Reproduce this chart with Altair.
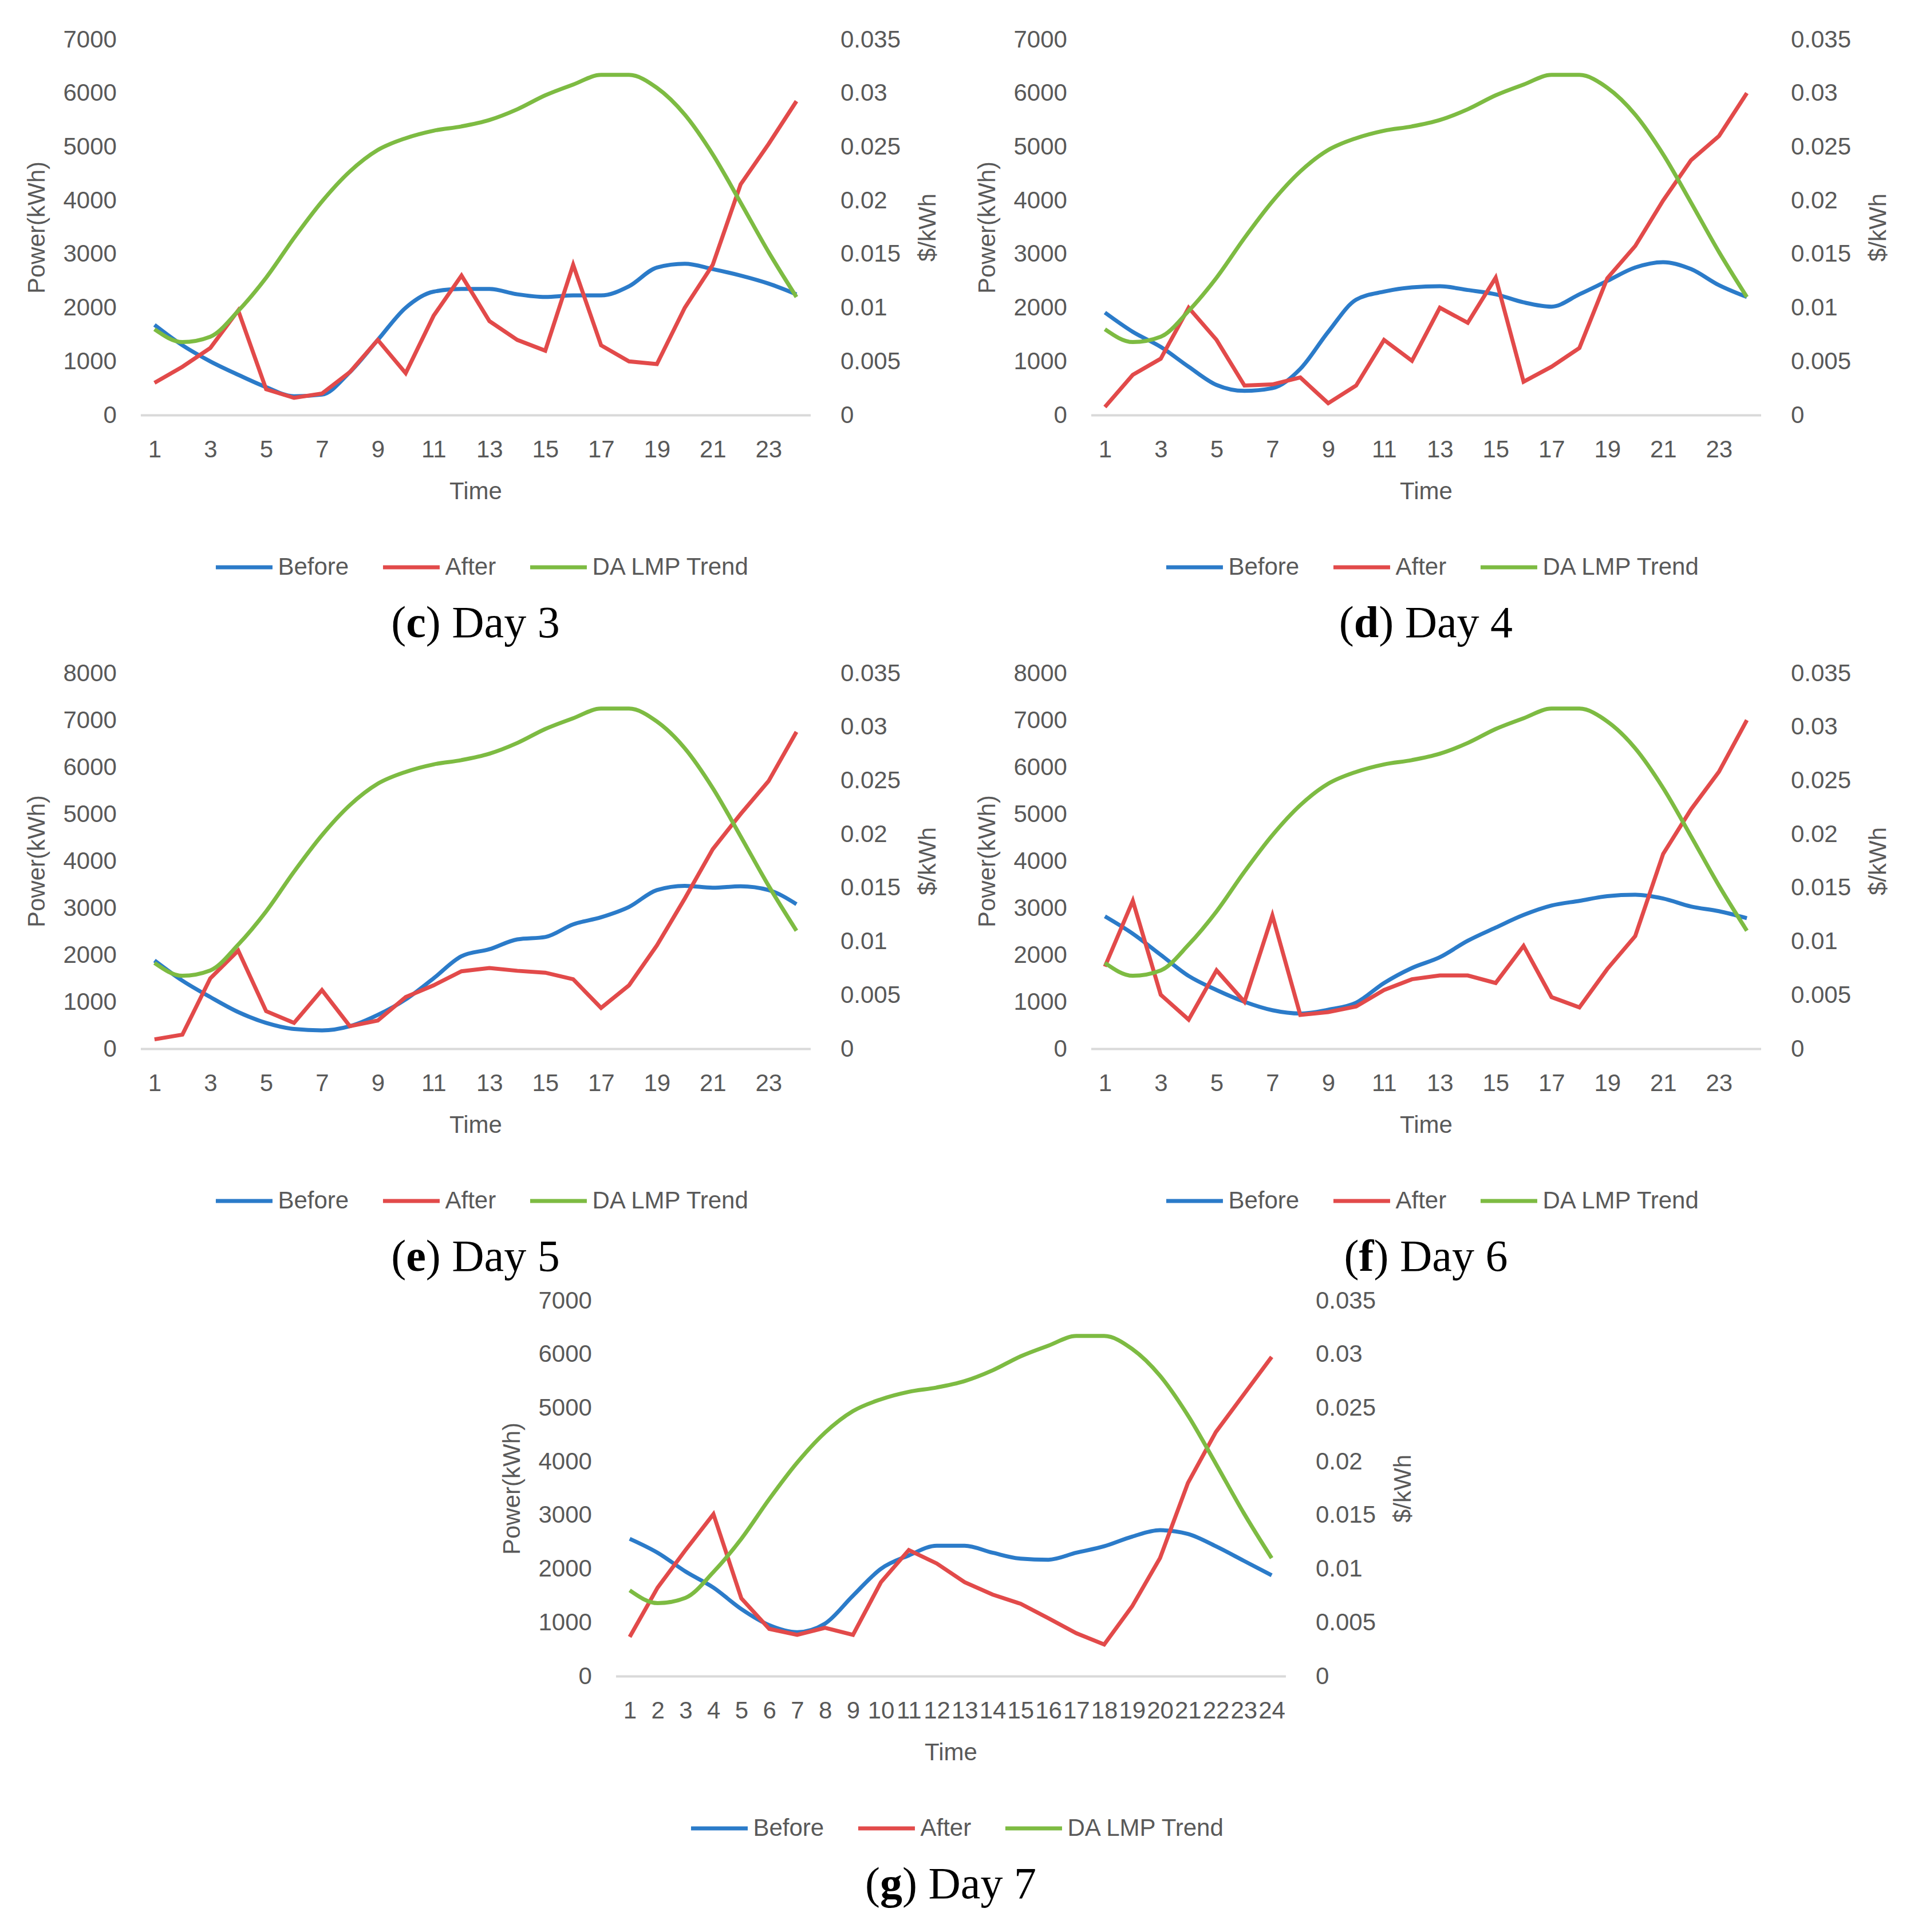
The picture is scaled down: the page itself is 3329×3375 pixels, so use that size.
import altair as alt
import pandas as pd

# hours of the day
hours = list(range(1, 25))

# day-ahead LMP trend ($/kWh), same shape on every day
lmp = [0.0080, 0.0068, 0.0073, 0.0097, 0.0128, 0.0165, 0.0199, 0.0227,
       0.0247, 0.0258, 0.0265, 0.0269, 0.0275, 0.0285, 0.0298, 0.0308,
       0.0317, 0.0317, 0.0305, 0.0280, 0.0243, 0.0198, 0.0152, 0.0110]

before_d3 = [1680, 1300, 1000, 750, 520, 350, 380, 800, 1400, 2000, 2300, 2350,
             2350, 2250, 2200, 2230, 2230, 2400, 2750, 2820, 2720, 2600, 2450, 2250]
after_d3 = [600, 900, 1250, 1950, 480, 320, 400, 800, 1400, 780, 1850, 2600,
            1750, 1400, 1200, 2800, 1300, 1000, 950, 2000, 2800, 4300, 5050, 5850]

before_d4 = [1910, 1550, 1270, 900, 560, 450, 500, 860, 1550, 2150, 2300, 2380,
             2400, 2330, 2250, 2100, 2020, 2250, 2500, 2750, 2850, 2720, 2420, 2200]
after_d4 = [150, 750, 1050, 2000, 1400, 550, 570, 700, 220, 550, 1400, 1010,
            2000, 1720, 2560, 620, 900, 1250, 2550, 3150, 4000, 4750, 5200, 6000]

before_d5 = [1880, 1450, 1100, 780, 550, 420, 390, 480, 720, 1050, 1500, 1970,
             2120, 2330, 2380, 2650, 2800, 3020, 3380, 3470, 3430, 3460, 3380, 3080]
after_d5 = [200, 300, 1500, 2090, 800, 550, 1250, 480, 600, 1100, 1350, 1650,
            1720, 1660, 1620, 1480, 870, 1350, 2200, 3200, 4250, 5000, 5700, 6750]

before_d6 = [2820, 2450, 2000, 1550, 1250, 1000, 820, 750, 830, 980, 1400, 1720,
             1950, 2300, 2580, 2850, 3050, 3150, 3250, 3280, 3200, 3030, 2930, 2780]
after_d6 = [1750, 3150, 1150, 620, 1670, 1000, 2840, 720, 780, 900, 1250, 1480,
            1560, 1560, 1400, 2190, 1100, 880, 1700, 2400, 4150, 5100, 5900, 7000]

before_d7 = [2560, 2300, 1950, 1650, 1250, 950, 820, 980, 1500, 2000, 2250, 2430,
             2430, 2300, 2190, 2170, 2300, 2420, 2600, 2720, 2650, 2420, 2150, 1880]
after_d7 = [730, 1650, 2350, 3020, 1450, 880, 770, 900, 770, 1750, 2350, 2100,
            1750, 1520, 1350, 1080, 800, 590, 1300, 2200, 3600, 4550, 5250, 5950]

series_names = ["Before", "After", "DA LMP Trend"]
series_colors = ["#2b7bc9", "#e24a4a", "#7dbb42"]
price_ticks = [0, 0.005, 0.01, 0.015, 0.02, 0.025, 0.03, 0.035]

PLOT_W, PLOT_H = 1170, 656
LINE_W = 7
SANS = "Liberation Sans"
SERIF = "Liberation Serif"

# Times-like advance widths (em) for the caption pieces
BOLD_W = {"c": 0.444, "d": 0.556, "e": 0.444, "f": 0.333, "g": 0.5}


def make_plot(before, after, ymax, tick_hours):
    before_df = pd.DataFrame({"Time": hours, "series": "Before", "kWh": before})
    after_df = pd.DataFrame({"Time": hours, "series": "After", "kWh": after})
    price_df = pd.DataFrame({"Time": hours, "series": "DA LMP Trend", "price": lmp})

    x = alt.X("Time:Q",
              scale=alt.Scale(domain=[0.5, 24.5], nice=False, zero=False),
              axis=alt.Axis(values=tick_hours, title="Time", grid=False, ticks=False,
                            domainColor="#d9d9d9", domainWidth=4, labelPadding=40,
                            titlePadding=32, labelOverlap=False, labelFlush=False,
                            labelAngle=0))
    color = alt.Color("series:N",
                      scale=alt.Scale(domain=series_names, range=series_colors),
                      legend=alt.Legend(orient="none", legendX=128, legendY=869,
                                        direction="horizontal", title=None,
                                        symbolType="stroke", symbolSize=9801,
                                        symbolStrokeWidth=7, labelFontSize=42,
                                        labelColor="#595959", labelFont=SANS,
                                        labelLimit=0, columnPadding=45,
                                        labelOffset=6))
    y_power = alt.Y("kWh:Q",
                    scale=alt.Scale(domain=[0, ymax], nice=False),
                    axis=alt.Axis(values=list(range(0, ymax + 1, 1000)), format="d",
                                  title="Power(kWh)", orient="left", grid=False,
                                  ticks=False, domain=False, labelPadding=42,
                                  titlePadding=24))
    y_price = alt.Y("price:Q",
                    scale=alt.Scale(domain=[0, 0.035], nice=False),
                    axis=alt.Axis(values=price_ticks, format=".3~f", title="$/kWh",
                                  orient="right", grid=False, ticks=False,
                                  domain=False, labelPadding=52, titlePadding=28,
                                  titleAngle=270, titleBaseline="top"))

    before_line = alt.Chart(before_df).mark_line(
        strokeWidth=LINE_W, interpolate="monotone"
    ).encode(x=x, y=y_power, color=color)
    after_line = alt.Chart(after_df).mark_line(
        strokeWidth=LINE_W
    ).encode(x=x, y=y_power, color=color)
    price_line = alt.Chart(price_df).mark_line(
        strokeWidth=LINE_W, interpolate="monotone"
    ).encode(x=x, y=y_price, color=color)

    power = alt.layer(before_line, after_line)
    return alt.layer(power, price_line).resolve_scale(y="independent").properties(
        width=PLOT_W, height=PLOT_H)


def make_caption(letter, day):
    fs = 78
    lw = BOLD_W[letter]
    total = (0.333 + lw + 0.333 + 0.25 + 0.722 + 0.444 + 0.5 + 0.25 + 0.5) * fs
    x0 = PLOT_W / 2 - total / 2
    base = alt.Chart(pd.DataFrame({"k": [0]}))
    style = dict(align="left", baseline="middle", font=SERIF, fontSize=fs, color="black")
    p1 = base.mark_text(text="(", **style).encode(x=alt.value(x0), y=alt.value(45))
    p2 = base.mark_text(text=letter, fontWeight="bold", **style).encode(
        x=alt.value(x0 + 0.333 * fs), y=alt.value(45))
    p3 = base.mark_text(text=") Day %d" % day, **style).encode(
        x=alt.value(x0 + (0.333 + lw) * fs), y=alt.value(45))
    return alt.layer(p1, p2, p3).properties(width=PLOT_W, height=90)


def make_panel(letter, day, before, after, ymax, tick_hours):
    return alt.vconcat(
        make_plot(before, after, ymax, tick_hours),
        make_caption(letter, day),
        spacing=33,
    ).resolve_scale(color="independent")


odd_hours = list(range(1, 24, 2))

panel_c = make_panel("c", 3, before_d3, after_d3, 7000, odd_hours)
panel_d = make_panel("d", 4, before_d4, after_d4, 7000, odd_hours)
panel_e = make_panel("e", 5, before_d5, after_d5, 8000, odd_hours)
panel_f = make_panel("f", 6, before_d6, after_d6, 8000, odd_hours)
panel_g = make_panel("g", 7, before_d7, after_d7, 7000, hours)

row1 = alt.hconcat(panel_c, panel_d, spacing=60).resolve_scale(color="independent")
row2 = alt.hconcat(panel_e, panel_f, spacing=60).resolve_scale(color="independent")
top_rows = alt.vconcat(row1, row2, spacing=20).resolve_scale(color="independent")

chart = alt.vconcat(top_rows, panel_g, spacing=9, center=True).resolve_scale(
    color="independent"
).properties(
    padding={"left": 35, "top": 40, "right": 5, "bottom": 5}
).configure_view(
    stroke=None
).configure_axis(
    labelFont=SANS, titleFont=SANS, labelFontSize=42, titleFontSize=42,
    labelColor="#595959", titleColor="#595959", titleFontWeight="normal"
)

chart.save("out.html", embed_options={"renderer": "svg", "actions": False})
